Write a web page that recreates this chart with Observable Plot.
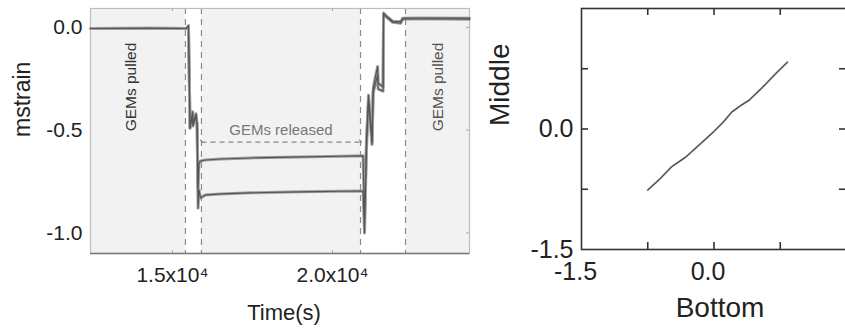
<!DOCTYPE html>
<html><head><meta charset="utf-8">
<script src="https://cdn.jsdelivr.net/npm/d3@7"></script>
<script src="https://cdn.jsdelivr.net/npm/@observablehq/plot@0.6"></script>
<style>
body{margin:0;background:#fff;overflow:hidden;width:845px;height:328px;position:relative;font-family:"Liberation Sans",Arial,sans-serif}
#left{position:absolute;left:0;top:0;width:480px}
#right{position:absolute;left:480px;top:0;width:370px}
svg{max-width:none !important}
</style></head><body>
<div id="left"></div><div id="right"></div>
<script>
// ---- Left panel: strain over time ----
const timeS = [12440,14315,15440,15500,15550,15630,15640,15735,15770,15800,15830,15875,16030,16500,17440,19000,20250,20955,21000,21060,21125,21190,21235,21270,21315,21410,21425,21580,21595,21690,21880,22130,22190,22750,24280];
const upperStrain = [-0.005,-0.004,-0.005,0.008,-0.49,-0.41,-0.47,-0.42,-0.47,-0.78,-0.66,-0.65,-0.645,-0.64,-0.635,-0.63,-0.627,-0.625,-0.93,-0.55,-0.33,-0.45,-0.56,-0.30,-0.26,-0.19,-0.27,-0.29,0.07,0.055,0.03,0.028,0.045,0.046,0.045];
const lowerStrain = [-0.005,-0.004,-0.005,0.008,-0.49,-0.42,-0.48,-0.43,-0.48,-0.88,-0.79,-0.83,-0.815,-0.81,-0.805,-0.80,-0.797,-0.796,-1.0,-0.60,-0.36,-0.48,-0.57,-0.32,-0.29,-0.23,-0.30,-0.31,0.06,0.05,0.025,0.02,0.04,0.042,0.04];
const bandStart = [12440, 15906, 22281];
const bandEnd = [15406, 20875, 24280];
const dashTimes = [15406, 15906, 20875, 22281];
const timeTicks = [15000, 20000];
const strainTicks = [0, -0.5, -1.0];
const pulledLabelTimes = [13721, 23284];
const pulledLabelFills = ["#333", "#555"];

// ---- Right panel: Middle vs Bottom ----
const bottomVals = [-0.75,-0.62,-0.48,-0.32,-0.15,0.0,0.1,0.2,0.3,0.4,0.55,0.7,0.83];
const middleVals = [-0.76,-0.63,-0.47,-0.35,-0.18,-0.03,0.08,0.21,0.29,0.36,0.52,0.69,0.83];
const scatterLabelTicks = [-1.5, 0];
const scatterMinorTicks = [-0.75, 0, 0.75];

const font = "Liberation Sans, Arial, sans-serif";
const fmt1 = d => d.toFixed(1);
const fmtSci = d => (d / 1e4).toFixed(1) + "x10\u2074";

const series = [];
timeS.forEach((t, i) => {
  series.push({t, v: upperStrain[i], s: "upper"});
  series.push({t, v: lowerStrain[i], s: "lower"});
});
series.sort((a, b) => a.s.localeCompare(b.s));
const bands = bandStart.map((a, i) => ({a, b: bandEnd[i]}));
const pulled = pulledLabelTimes.map((t, i) => ({t, fill: pulledLabelFills[i]}));

// left frame geometry (px)
const L = {w: 480, h: 328, ml: 90, mr: 11, mt: 8, mb: 75};
const LH = L.h - L.mt - L.mb, LW = L.w - L.ml - L.mr;
const left = Plot.plot({
  width: L.w, height: L.h,
  marginLeft: L.ml, marginRight: L.mr, marginTop: L.mt, marginBottom: L.mb,
  style: {fontFamily: font, background: "white"},
  x: {domain: [12440, 24280]},
  y: {domain: [-1.1, 0.092]},
  marks: [
    Plot.rect(bands, {x1: "a", x2: "b", y1: () => -1.1, y2: () => 0.092, fill: "#f2f2f2"}),
    Plot.ruleX(dashTimes, {stroke: "#8c8c8c", strokeWidth: 1.2, strokeDasharray: "6,5"}),
    Plot.frame({stroke: "#bdbdbd", strokeWidth: 1.2}),
    Plot.ruleY([-1.1], {stroke: "#777", strokeWidth: 1.5}),
    Plot.ruleX(timeTicks, {stroke: "#aaa", insetTop: LH - 3}),
    Plot.ruleX(timeTicks, {stroke: "#aaa", insetBottom: LH - 3}),
    Plot.ruleY(strainTicks, {stroke: "#aaa", insetLeft: LW - 3}),
    Plot.line(series, {x: "t", y: "v", z: "s", stroke: "#a0a0a0", strokeWidth: 3}),
    Plot.line(series, {x: "t", y: "v", z: "s", stroke: "#555", strokeWidth: 1.1}),
    Plot.link([{a: 15906, b: 20875, y: -0.558}], {x1: "a", x2: "b", y1: "y", y2: "y", stroke: "#888", strokeWidth: 1.1, strokeDasharray: "5,4", markerStart: "arrow", markerEnd: "arrow"}),
    Plot.text(["GEMs released"], {x: () => 18390, y: () => -0.5, fill: "#777", fontSize: 15}),
    Plot.text(pulled, {x: "t", y: () => -0.29, text: () => "GEMs pulled", rotate: -90, fill: "fill", fontSize: 15.5}),
    Plot.axisX(timeTicks, {tickSize: 0, tickPadding: 14, fontSize: 21, tickFormat: fmtSci, label: null, fill: "#222"}),
    Plot.axisY(strainTicks, {tickSize: 0, tickPadding: 8, fontSize: 21, tickFormat: fmt1, label: null, fill: "#222"}),
    Plot.text(["mstrain"], {frameAnchor: "left", dx: -68, dy: 6, rotate: -90, fontSize: 23, fill: "#222"}),
    Plot.text(["Time(s)"], {frameAnchor: "bottom", lineAnchor: "middle", dx: 4, dy: 59, fontSize: 22, fill: "#222"})
  ]
});
document.getElementById("left").append(left);

// right frame geometry (px)
const R = {w: 370, h: 328, ml: 101, mr: 4, mt: 8, mb: 79};
const RH = R.h - R.mt - R.mb, RW = R.w - R.ml - R.mr;
const pairs = bottomVals.map((b, i) => ({b, m: middleVals[i]}));
const right = Plot.plot({
  width: R.w, height: R.h,
  marginLeft: R.ml, marginRight: R.mr, marginTop: R.mt, marginBottom: R.mb,
  style: {fontFamily: font, background: "white"},
  x: {domain: [-1.5, 1.5]},
  y: {domain: [-1.5, 1.5]},
  marks: [
    Plot.frame({stroke: "#333", strokeWidth: 1.6}),
    Plot.ruleX(scatterMinorTicks, {stroke: "#333", strokeWidth: 1.6, insetTop: RH - 7}),
    Plot.ruleX(scatterMinorTicks, {stroke: "#333", strokeWidth: 1.6, insetBottom: RH - 7}),
    Plot.ruleY(scatterMinorTicks, {stroke: "#333", strokeWidth: 1.6, insetRight: RW - 7}),
    Plot.ruleY(scatterMinorTicks, {stroke: "#333", strokeWidth: 1.6, insetLeft: RW - 7}),
    Plot.line(pairs, {x: "b", y: "m", stroke: "#999", strokeWidth: 2}),
    Plot.line(pairs, {x: "b", y: "m", stroke: "#333", strokeWidth: 1}),
    Plot.axisX(scatterLabelTicks, {tickSize: 0, tickPadding: 13, dx: -6, fontSize: 25, tickFormat: fmt1, label: null, fill: "#222"}),
    Plot.axisY(scatterLabelTicks, {tickSize: 0, tickPadding: 8, fontSize: 25, tickFormat: fmt1, label: null, fill: "#222"}),
    Plot.text(["Middle"], {frameAnchor: "left", dx: -81, dy: -3, rotate: -90, fontSize: 28, fill: "#222"}),
    Plot.text(["Bottom"], {frameAnchor: "bottom", lineAnchor: "middle", dx: 6, dy: 59, fontSize: 28, fill: "#222"})
  ]
});
document.getElementById("right").append(right);
</script>
</body></html>
